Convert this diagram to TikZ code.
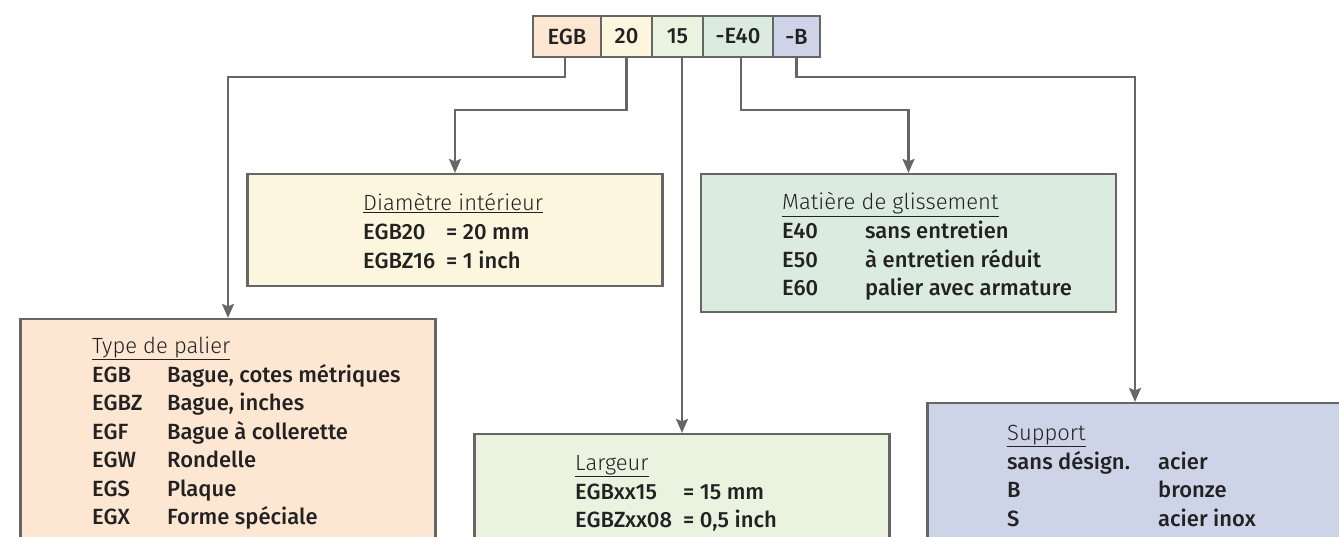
\documentclass[tikz,border=0pt]{standalone}
\usepackage{fontspec}
\setmainfont{Fira Sans Medium}
\newfontfamily\lightfont{Fira Sans Light}
\usetikzlibrary{arrows.meta}
\definecolor{cPeach}{HTML}{FDE7D3}
\definecolor{cYellow}{HTML}{FBF6DD}
\definecolor{cLgreen}{HTML}{EAF3E0}
\definecolor{cGreen}{HTML}{DCEBDF}
\definecolor{cLav}{HTML}{CDD4E8}
\definecolor{cLine}{HTML}{666666}
\definecolor{cText}{HTML}{222222}
\newcommand{\ttl}[1]{{\lightfont\underline{#1}}}
\newcommand{\rw}[3]{\makebox[#1][l]{#2}#3}
\begin{document}
\begin{tikzpicture}[x=1pt,y=-1pt,
  every node/.style={font=\fontsize{22}{28.5}\selectfont, text=cText},
  cell/.style={draw=cLine, line width=2.5pt, minimum height=41pt, inner sep=0pt, anchor=center},
  infobox/.style={draw=cLine, line width=2.2pt, minimum width=415pt, inner sep=0pt},
  txt/.style={anchor=base west, inner sep=0pt},
  conn/.style={draw=cLine, line width=2.2pt, -{Stealth[length=14pt,width=12pt,inset=2.5pt]}}]
\useasboundingbox (0,0) rectangle (1339,537);
\clip (0,0) rectangle (1339,537);
\fill[white] (0,0) rectangle (1339,537);
% info boxes
\node[infobox, fill=cPeach,  minimum height=281pt] (b1) at (228,459.5) {};
\node[infobox, fill=cYellow, minimum height=112pt] (b2) at (455,230) {};
\node[infobox, fill=cLgreen, minimum height=166pt] (b3) at (682,517) {};
\node[infobox, fill=cGreen,  minimum height=138pt] (b4) at (908.5,243) {};
\node[infobox, fill=cLav,    minimum height=197pt] (b5) at (1135,501.5) {};
% code cells
\node[cell, fill=cPeach,  minimum width=68pt] (c1) at (567,36.5) {EGB};
\node[cell, fill=cYellow, minimum width=51pt] (c2) at (626.5,36.5) {20};
\node[cell, fill=cLgreen, minimum width=51pt] (c3) at (677.5,36.5) {15};
\node[cell, fill=cGreen,  minimum width=70pt] (c4) at (738,36.5) {-E40};
\node[cell, fill=cLav,    minimum width=47pt] (c5) at (796.5,36.5) {-B};
% connectors
\coordinate (k1) at (228,77);
\coordinate (k2) at (455,110);
\coordinate (k4) at (908.5,110);
\coordinate (k5) at (1135,77);
\draw[conn] ([xshift=-2pt]c1.south) |- (k1) -- (b1.north);
\draw[conn] (c2.south) |- (k2) -- (b2.north);
\draw[conn] (c3.south -| b3.north) -- (b3.north);
\draw[conn] ([xshift=3pt]c4.south) |- (k4) -- (b4.north);
\draw[conn] (c5.south) |- (k5) -- (b5.north);
% titles
\node[txt] (h1) at (92,353) {\ttl{Type de palier}};
\node[txt] (h2) at (363,211) {\ttl{Diamètre intérieur}};
\node[txt] (h3) at (575,470) {\ttl{Largeur}};
\node[txt] (h4) at (782,210) {\ttl{Matière de glissement}};
\node[txt] (h5) at (1007,440) {\ttl{Support}};
% entries
\node[txt] (t1) at (92,382) {\begin{tabular}[t]{@{}l@{}}
\rw{75pt}{EGB}{Bague, cotes métriques}\\
\rw{75pt}{EGBZ}{Bague, inches}\\
\rw{75pt}{EGF}{Bague à collerette}\\
\rw{75pt}{EGW}{Rondelle}\\
\rw{75pt}{EGS}{Plaque}\\
\rw{75pt}{EGX}{Forme spéciale}
\end{tabular}};
\node[txt] (t2) at (363,240) {\begin{tabular}[t]{@{}l@{}}
\rw{83pt}{EGB20}{= 20 mm}\\
\rw{83pt}{EGBZ16}{= 1 inch}
\end{tabular}};
\node[txt] (t3) at (575,499) {\begin{tabular}[t]{@{}l@{}}
\rw{108pt}{EGBxx15}{= 15 mm}\\
\rw{108pt}{EGBZxx08}{= 0,5 inch}
\end{tabular}};
\node[txt] (t4) at (782,239) {\begin{tabular}[t]{@{}l@{}}
\rw{83pt}{E40}{sans entretien}\\
\rw{83pt}{E50}{à entretien réduit}\\
\rw{83pt}{E60}{palier avec armature}
\end{tabular}};
\node[txt] (t5) at (1007,469) {\begin{tabular}[t]{@{}l@{}}
\rw{151pt}{sans désign.}{acier}\\
\rw{151pt}{B}{bronze}\\
\rw{151pt}{S}{acier inox}
\end{tabular}};
\end{tikzpicture}
\end{document}
